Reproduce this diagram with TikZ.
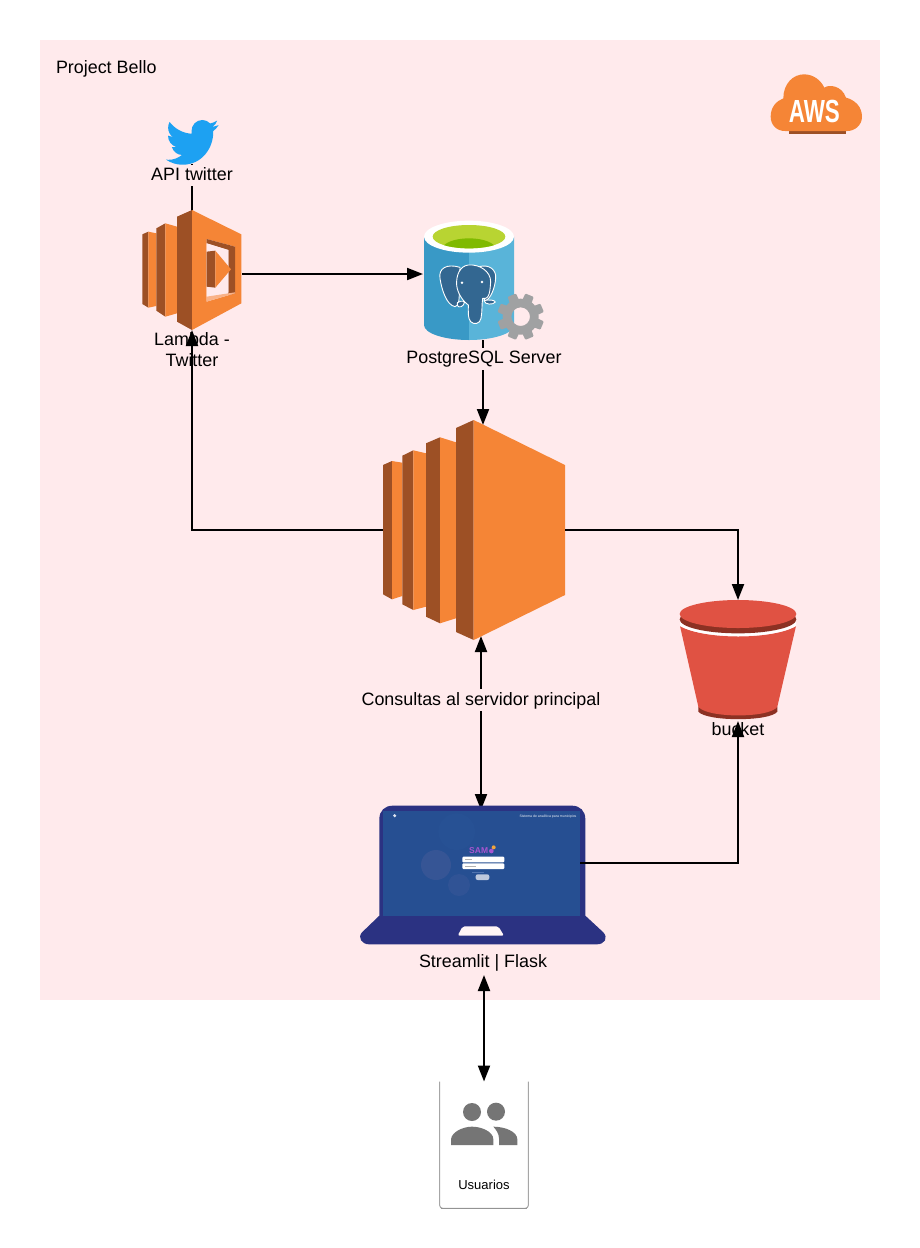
\documentclass[tikz,border=0pt]{standalone}
\usepackage{fontspec}
\setmainfont{Liberation Sans}
\usetikzlibrary{arrows.meta}
\definecolor{bgpink}{HTML}{FFEAEC}
\definecolor{awsor}{HTML}{F58536}
\definecolor{awsdk}{HTML}{9D5025}
\definecolor{s3red}{HTML}{E05243}
\definecolor{s3dk}{HTML}{8C3123}
\definecolor{lapdk}{HTML}{2B3282}
\definecolor{lapsc}{HTML}{264F92}
\tikzset{
  x=1pt,y=-1pt,
  conn/.style={draw=black,line width=2pt},
  tipe/.style={-{Triangle[length=16pt,width=12pt]}},
  tipb/.style={{Triangle[length=16pt,width=12pt]}-{Triangle[length=16pt,width=12pt]}},
  anchorbox/.style={inner sep=0pt,outer sep=0pt},
  lbl/.style={font=\fontsize{17.9}{21}\selectfont,align=center,inner sep=0pt,outer sep=0pt,text=black},
  maskedlbl/.style={lbl,fill=bgpink,inner xsep=2pt,inner ysep=2pt},
  zoomed/.style={x=0.33333pt,y=-0.33333pt},
  dk/.style={fill=awsdk,draw=none},
  or/.style={fill=awsor,draw=none},
}
\begin{document}
\begin{tikzpicture}
\useasboundingbox (0,0) rectangle (920,1248);
\fill[white] (0,0) rectangle (920,1248);
\fill[bgpink] (40,40) rectangle (880,1000);
\node[lbl,anchor=west] (title) at (56,68.5) {Project Bello};

% anchor boxes
\node[anchorbox,minimum width=52pt,minimum height=44pt] (twitter) at (192,142) {};
\node[anchorbox,minimum width=100pt,minimum height=112pt] (lambda) at (192,274) {};
\node[anchorbox,minimum width=120pt,minimum height=132pt] (pg) at (483,274) {};
\node[anchorbox,minimum width=182pt,minimum height=220pt] (ec2) at (474,530) {};
\node[anchorbox,minimum width=116pt,minimum height=121pt] (bucket) at (738,660.5) {};
\node[anchorbox,minimum width=198pt,minimum height=105pt] (laptop) at (481,862.5) {};
\node[anchorbox,minimum width=89pt,minimum height=127pt] (users) at (484,1145) {};
\coordinate (ec2top) at (483,425);
\coordinate (ec2bot) at (481,636);

% connectors under icons and masked labels
\draw[conn] (twitter.south) -- (lambda.north);
\draw[conn,tipe] (pg.south) -- (ec2top);
\draw[conn,tipb] (ec2bot) -- (laptop.north);

% AWS cloud
\begin{scope}[shift={(760,65)},zoomed]
  \fill[awsdk] (87,190) rectangle (258,208);
  \fill[awsor] (32,155) .. controls (32,125) and (50,108) .. (70,100)
    .. controls (70,55) and (100,28) .. (132,28)
    .. controls (160,28) and (182,45) .. (193,68)
    .. controls (205,58) and (245,60) .. (258,98)
    .. controls (285,105) and (306,125) .. (306,155)
    .. controls (306,180) and (285,198) .. (262,198)
    -- (75,198) .. controls (50,198) and (32,180) .. (32,155) -- cycle;
  \node[anchorbox,text=white,font=\fontsize{32}{34}\selectfont] (awstext) at (163,140) {\scalebox{0.7}[1]{\textbf{AWS}}};
\end{scope}

% Lambda
\begin{scope}[shift={(120,100)},zoomed]
  \fill[dk] (67,403) -- (85,395) -- (85,623) -- (67,612) -- cycle;
  \fill[or] (85,395) -- (109,400) -- (109,618) -- (85,623) -- cycle;
  \fill[dk] (109,385) -- (136,370) -- (136,650) -- (109,632) -- cycle;
  \fill[or] (136,370) -- (171,380) -- (171,640) -- (136,650) -- cycle;
  \fill[dk] (171,350) -- (216,330) -- (216,690) -- (171,665) -- cycle;
  \fill[or,even odd rule] (216,330) -- (364,403) -- (364,610) -- (216,690) -- cycle
    (260,417) -- (345,440) -- (345,580) -- (260,605) -- cycle;
  \fill[awsdk] (260,417) -- (345,440) -- (345,580) -- (325,585) -- (325,450) -- (260,430) -- cycle;
  \fill[bgpink] (260,430) -- (325,450) -- (325,577) -- (260,590) -- cycle;
  \fill[awsor!55!bgpink] (260,590) -- (345,577) -- (345,580) -- (260,605) -- cycle;
  \fill[dk] (260,455) -- (286,452) -- (286,563) -- (260,560) -- cycle;
  \fill[or] (286,452) -- (333,508) -- (286,563) -- cycle;
\end{scope}

% PostgreSQL
\begin{scope}[shift={(400,210)},zoomed]
  \fill[fill={rgb,255:red,57;green,153;blue,198}] (72,80) -- (72,345) arc[start angle=180,end angle=90,x radius=135,y radius=45] -- (207,80) -- cycle;
  \fill[fill={rgb,255:red,89;green,180;blue,217}] (207,80) -- (207,390) arc[start angle=90,end angle=0,x radius=135,y radius=45] -- (342,80) -- cycle;
  \fill[white] (207,80) ellipse[x radius=135,y radius=48];
  \fill[fill={rgb,255:red,184;green,212;blue,50}] (207,80) ellipse[x radius=109,y radius=35];
  \begin{scope}
    \clip (207,80) ellipse[x radius=109,y radius=35];
    \fill[fill={rgb,255:red,127;green,186;blue,0}] (207,117) ellipse[x radius=80,y radius=32];
  \end{scope}
  % elephant
  \begin{scope}[fill={rgb,255:red,51;green,103;blue,145},draw=white,line width=0.9pt,line join=round]
    \filldraw (180,172) .. controls (140,160) and (115,175) .. (120,205)
      .. controls (125,240) and (140,285) .. (165,290)
      .. controls (178,290) and (178,260) .. (178,240) -- cycle;
    \filldraw (238,170) .. controls (265,162) and (290,178) .. (287,205)
      .. controls (285,235) and (270,270) .. (255,272) -- (240,240) -- cycle;
    \filldraw (205,165) .. controls (180,168) and (168,195) .. (170,225)
      .. controls (172,250) and (190,275) .. (205,285)
      .. controls (205,305) and (203,325) .. (212,335)
      .. controls (222,345) and (240,342) .. (243,325)
      .. controls (247,305) and (245,285) .. (248,265)
      .. controls (270,270) and (270,240) .. (272,215)
      .. controls (272,185) and (240,162) .. (205,165) -- cycle;
    \filldraw (172,278) .. controls (185,270) and (200,272) .. (190,285) .. controls (182,295) and (168,292) .. (172,278) -- cycle;
    \filldraw (252,272) .. controls (265,268) and (285,270) .. (286,276) .. controls (280,285) and (255,285) .. (252,272) -- cycle;
  \end{scope}
  \fill[white] (186,218) circle[radius=4];
  \fill[white] (246,216) circle[radius=4];
  % gear
  \begin{scope}[shift={(362,320)}]
    \fill[fill={rgb,255:red,160;green,161;blue,162},even odd rule]
      (0,0) circle[radius=54] (0,0) circle[radius=28];
    \foreach \a in {22.5,67.5,...,360} {
      \fill[fill={rgb,255:red,160;green,161;blue,162},rounded corners=1pt]
        (\a-17:50) -- (\a-11:71) -- (\a+11:71) -- (\a+17:50) -- cycle;
    }
  \end{scope}
\end{scope}

% EC2
\begin{scope}
  \fill[dk] (383,465) -- (392,461) -- (392,599.3) -- (383,594.3) -- cycle;
  \fill[or] (392,461) -- (402.3,462.7) -- (402.3,596) -- (392,599.3) -- cycle;
  \fill[dk] (402.3,455.7) -- (413.3,450.3) -- (413.3,610) -- (402.3,604.3) -- cycle;
  \fill[or] (413.3,450.3) -- (426,453.3) -- (426,606.7) -- (413.3,610) -- cycle;
  \fill[dk] (426,443.3) -- (440,437.3) -- (440,623.3) -- (426,616.7) -- cycle;
  \fill[or] (440,437.3) -- (456,442.3) -- (456,618.3) -- (440,623.3) -- cycle;
  \fill[dk] (456,428) -- (473.7,420) -- (473.7,640) -- (456,632) -- cycle;
  \fill[or] (473.7,420) -- (565,465) -- (565,595) -- (473.7,640) -- cycle;
\end{scope}

% Bucket
\begin{scope}[shift={(670,590)},zoomed]
  \fill[s3dk] (85,350) -- (322,350) -- (322,365) .. controls (300,395) and (110,395) .. (85,365) -- cycle;
  \fill[s3red] (30,108) .. controls (100,150) and (310,150) .. (378,108) -- (322,350) .. controls (300,385) and (110,385) .. (85,350) -- cycle;
  \fill[white] (30,95) .. controls (100,135) and (310,135) .. (378,95) -- (378,108) .. controls (310,148) and (100,148) .. (30,108) -- cycle;
  \fill[s3dk] (204,88) ellipse[x radius=175,y radius=42];
  \fill[s3red] (204,72) ellipse[x radius=175,y radius=42];
\end{scope}

% Laptop
\begin{scope}[shift={(350,795)},zoomed]
  \fill[lapdk] (88,362) -- (88,72) .. controls (88,48) and (104,32) .. (128,32) -- (666,32) .. controls (690,32) and (706,48) .. (706,72) -- (706,362)
     -- (760,412) .. controls (775,428) and (765,448) .. (740,448) -- (58,448) .. controls (35,448) and (22,428) .. (36,412) -- cycle;
  \fill[lapsc] (99,48) rectangle (690,362);
  \fill[fill={rgb,255:red,39;green,81;blue,148}] (320,110) circle[radius=55];
  \fill[fill={rgb,255:red,54;green,85;blue,149}] (258,210) circle[radius=45];
  \fill[fill={rgb,255:red,48;green,83;blue,149}] (327,270) circle[radius=33];
  \fill[bgpink!50!white,rounded corners=2pt] (338,394) -- (445,394) -- (462,422) -- (323,422) -- cycle;
  \fill[white,rounded corners=1pt] (337,185) rectangle (463,202);
  \fill[white,rounded corners=1pt] (337,205) rectangle (463,222);
  \fill[gray!60] (345,192) rectangle (367,195);
  \fill[gray!60] (345,212) rectangle (377,215);
  \fill[fill={rgb,255:red,80;green,115;blue,175}] (366,230) rectangle (403,233);
  \fill[fill={rgb,255:red,190;green,200;blue,220},rounded corners=2pt] (377,238) rectangle (418,255);
  \node[anchorbox,text={rgb,255:red,168;green,85;blue,208},font=\fontsize{8.5}{9}\selectfont] (sam) at (386,167) {\textbf{SAM}};
  \fill[fill={rgb,255:red,168;green,85;blue,208}] (424,168) circle[radius=7];
  \fill[fill={rgb,255:red,240;green,165;blue,60}] (431,157) circle[radius=6];
  \fill[white!85!lapsc] (134,62) circle[radius=5];
  \node[anchorbox,text=white!90!lapsc,font=\fontsize{3.5}{4}\selectfont] (laptitle) at (594,66) {Sistema de analítica para municipios};
\end{scope}

% Users card
\begin{scope}[shift={(425,1070)},zoomed]
  \fill[white] (44,35) rectangle (310,415);
  \draw[gray!70,line width=1pt,rounded corners=3pt] (44,35) -- (44,415) -- (310,415) -- (310,35);
  \draw[gray!85,line width=1.4pt,rounded corners=3pt] (47,415) -- (307,415);
  \fill[fill={rgb,255:red,117;green,117;blue,117}] (141,126) circle[radius=27];
  \fill[fill={rgb,255:red,117;green,117;blue,117}] (213,125) circle[radius=27];
  \fill[fill={rgb,255:red,117;green,117;blue,117}] (78,225) -- (78,208) .. controls (80,185) and (115,170) .. (141,170) .. controls (170,170) and (205,185) .. (205,208) -- (205,225) -- cycle;
  \fill[fill={rgb,255:red,117;green,117;blue,117}] (222,225) -- (222,205) .. controls (222,190) and (212,178) .. (205,170) .. controls (240,170) and (277,185) .. (277,208) -- (277,225) -- cycle;
  \node[anchorbox,text=black,font=\fontsize{13}{15}\selectfont] (userlbl) at (177,346) {Usuarios};
\end{scope}

% labels
\node[maskedlbl,text height=13pt,text depth=4pt] (apilbl) at (192,175.5) {API twitter};
\node[lbl] (lamlbl) at (192,349.5) {Lambda -\\Twitter};
\node[maskedlbl,text height=14pt,text depth=4pt] (pglbl) at (484,358.5) {PostgreSQL Server};
\node[maskedlbl,text height=14pt,text depth=4pt] (conslbl) at (481,700) {Consultas al servidor principal};
\node[lbl] (bucklbl) at (738,729) {bucket};
\node[lbl,text height=14pt,text depth=4pt,inner ysep=4pt] (strlbl) at (483,962) {Streamlit | Flask};

% Twitter bird
\begin{scope}[shift={(166,114.7)},x=2.19pt,y=-2.3pt]
  \fill[fill={rgb,255:red,29;green,161;blue,242}]
  (23.953,4.57) -- (21.128,5.345)
  .. controls (22.2,4.7) and (23.0,3.7) .. (23.291,2.622)
  .. controls (22.34,3.177) and (21.286,3.581) .. (20.164,3.806)
  .. controls (19.2,2.8) and (17.9,2.3) .. (16.57,2.3)
  .. controls (13.8,2.3) and (11.6,4.5) .. (11.65,7.2)
  .. controls (11.65,7.6) and (11.7,8) .. (11.78,8.288)
  .. controls (7.69,8.095) and (4.067,6.13) .. (1.64,3.162)
  .. controls (1.22,3.9) and (0.974,4.75) .. (0.974,5.637)
  .. controls (0.974,7.347) and (1.844,8.85) .. (3.162,9.733)
  .. controls (2.35,9.7) and (1.6,9.5) .. (0.934,9.117)
  -- (0.934,9.177)
  .. controls (0.934,11.55) and (2.6,13.55) .. (4.88,14.004)
  .. controls (4.15,14.2) and (3.4,14.23) .. (2.668,14.089)
  .. controls (3.35,16.1) and (5.2,17.45) .. (7.272,17.506)
  .. controls (5.55,18.85) and (3.45,19.611) .. (1.17,19.611)
  .. controls (0.78,19.611) and (0.391,19.588) .. (0,19.544)
  .. controls (2.2,20.95) and (4.8,21.753) .. (7.557,21.753)
  .. controls (16.61,21.753) and (21.555,14.257) .. (21.555,7.768)
  .. controls (21.555,7.558) and (21.555,7.348) .. (21.54,7.138)
  .. controls (22.5,6.45) and (23.35,5.6) .. (24,4.59) -- cycle;
\end{scope}

% connectors over labels
\draw[conn,tipe] (lambda.east) -- (pg.west);
\draw[conn,tipe] (ec2.west) -| (lambda.south);
\draw[conn,tipe] (ec2.east) -| (bucket.north);
\draw[conn,tipe] (laptop.east) -| (bucket.south);
\draw[conn,tipb] (strlbl.south -| users.north) -- (users.north);
\end{tikzpicture}
\end{document}
